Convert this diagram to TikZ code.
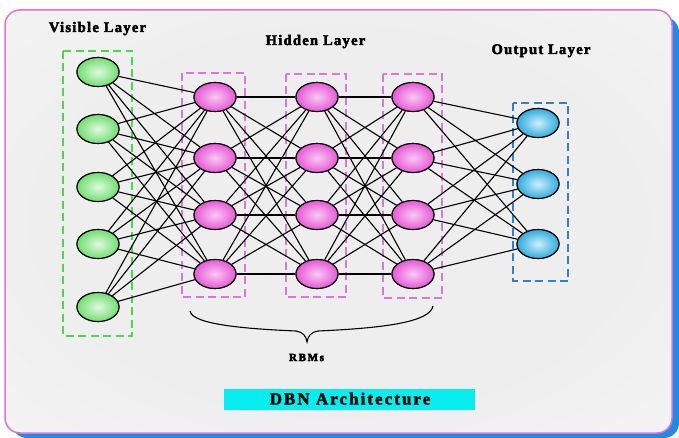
\documentclass[tikz,border=0pt]{standalone}
\usepackage{fontspec}
\setmainfont{Liberation Serif}
\newfontfamily\labelfont[LetterSpace=9]{Liberation Serif Bold}
\newfontfamily\captionfont[LetterSpace=12]{Liberation Serif Bold}
\newfontfamily\smalllabelfont[LetterSpace=15]{Liberation Serif Bold}
\usetikzlibrary{shapes.geometric}

% draw glyphs filled and outlined, for a heavier print
\newcommand\heavytext[1]{\special{pdf:literal 2 Tr 0.45 w}#1\special{pdf:literal 0 Tr}}

\definecolor{framepink}{RGB}{214,118,214}
\definecolor{shadowblue}{RGB}{34,138,226}
\definecolor{visouter}{RGB}{112,222,112}
\definecolor{visinner}{RGB}{225,248,225}
\definecolor{hidouter}{RGB}{230,88,214}
\definecolor{hidinner}{RGB}{250,200,244}
\definecolor{outouter}{RGB}{48,172,222}
\definecolor{outinner}{RGB}{205,238,250}
\definecolor{visbox}{RGB}{70,220,70}
\definecolor{hidbox}{RGB}{216,120,216}
\definecolor{outbox}{RGB}{58,126,192}
\definecolor{titlecyan}{RGB}{8,238,238}
\definecolor{glowmid}{RGB}{238,238,238}
\definecolor{glowedge}{RGB}{244,244,244}

% soft grey glow for the panel interior
\pgfdeclareradialshading{panelglow}{\pgfpoint{0bp}{0bp}}{%
  color(0bp)=(glowmid); color(22bp)=(glowmid); color(38bp)=(glowedge); color(50bp)=(white)}

\tikzset{
  neuron/.style={ellipse, draw=black, line width=1.1pt, minimum width=42pt,
    minimum height=29pt, inner sep=0pt, shading=radial},
  visnode/.style={neuron, inner color=visinner, outer color=visouter},
  hidnode/.style={neuron, inner color=hidinner, outer color=hidouter},
  outnode/.style={neuron, inner color=outinner, outer color=outouter},
  layerbox/.style={line width=1.6pt, dash pattern=on 8pt off 4.5pt},
  link/.style={line width=1.1pt, black},
  heading/.style={font={\labelfont\fontsize{14.5}{17}\selectfont}, anchor=base, inner sep=0pt},
}

\begin{document}
\begin{tikzpicture}[x=1pt, y=-1pt]
  \useasboundingbox (0,0) rectangle (679,438);

  % frame with offset shadow
  \fill[shadowblue, rounded corners=15pt] (12,17) rectangle (679,438);
  \fill[white, rounded corners=15pt] (5,10) rectangle (672,433);
  \shade[rounded corners=15pt, shading=panelglow] (5,10) rectangle (672,433);
  \draw[framepink, line width=1.5pt, rounded corners=15pt] (5,10) rectangle (672,433);

  % dashed layer boxes
  \draw[layerbox, visbox] (63,51) rectangle (132,336);
  \draw[layerbox, hidbox] (182,73) rectangle (245,297);
  \draw[layerbox, hidbox] (286,74) rectangle (346,297);
  \draw[layerbox, hidbox] (383,74) rectangle (442,298);
  \draw[layerbox, outbox] (513,103) rectangle (568,281);

  % neuron positions (named, drawn again after the links)
  \foreach \i/\y in {1/72,2/129,3/187,4/244,5/307}
    \node[visnode] (v\i) at (98,\y) {};
  \foreach \i/\y in {1/97,2/158,3/215,4/274} {
    \node[hidnode] (a\i) at (215,\y) {};
    \node[hidnode] (b\i) at (317,\y) {};
    \node[hidnode] (c\i) at (413,\y) {};
  }
  \foreach \i/\y in {1/123,2/184,3/244}
    \node[outnode] (o\i) at (538,\y) {};

  % full connections between neighbouring layers
  \foreach \i in {1,...,5}
    \foreach \j in {1,...,4}
      \draw[link] (v\i) -- (a\j);
  \foreach \i in {1,...,4}
    \foreach \j in {1,...,4} {
      \draw[link] (a\i) -- (b\j);
      \draw[link] (b\i) -- (c\j);
    }
  \foreach \i in {1,...,4}
    \foreach \j in {1,...,3}
      \draw[link] (c\i) -- (o\j);

  % neurons again above the links
  \foreach \i/\y in {1/72,2/129,3/187,4/244,5/307}
    \node[visnode] at (98,\y) {};
  \foreach \i/\y in {1/97,2/158,3/215,4/274} {
    \node[hidnode] at (215,\y) {};
    \node[hidnode] at (317,\y) {};
    \node[hidnode] at (413,\y) {};
  }
  \foreach \i/\y in {1/123,2/184,3/244}
    \node[outnode] at (538,\y) {};

  % layer headings
  \node[heading] (tvis) at (97.5,32) {\heavytext{Visible Layer}};
  \node[heading] (thid) at (315.5,45) {\heavytext{Hidden Layer}};
  \node[heading] (tout) at (541,54) {\heavytext{Output Layer}};

  % brace grouping the RBMs
  \draw[line width=1.1pt] (190,311)
    .. controls (192,325) and (250,329) .. (296,331)
    .. controls (303,332) and (306,336) .. (307,342)
    .. controls (308,336) and (311,332) .. (318,331)
    .. controls (385,328) and (430,322) .. (433,306);
  \node[font={\smalllabelfont\fontsize{11}{13}\selectfont}, anchor=base, inner sep=0pt] (trbm) at (306.5,361) {\heavytext{RBMs}};

  % caption bar
  \node[fill=titlecyan, minimum width=251pt, minimum height=21pt, inner sep=0pt] (cap) at (349.5,399.5) {};
  \node[font={\captionfont\fontsize{17}{20}\selectfont}, anchor=base, inner sep=0pt, text=black!90!teal] (tcap) at (350,404.5) {\heavytext{DBN Architecture}};
\end{tikzpicture}
\end{document}
